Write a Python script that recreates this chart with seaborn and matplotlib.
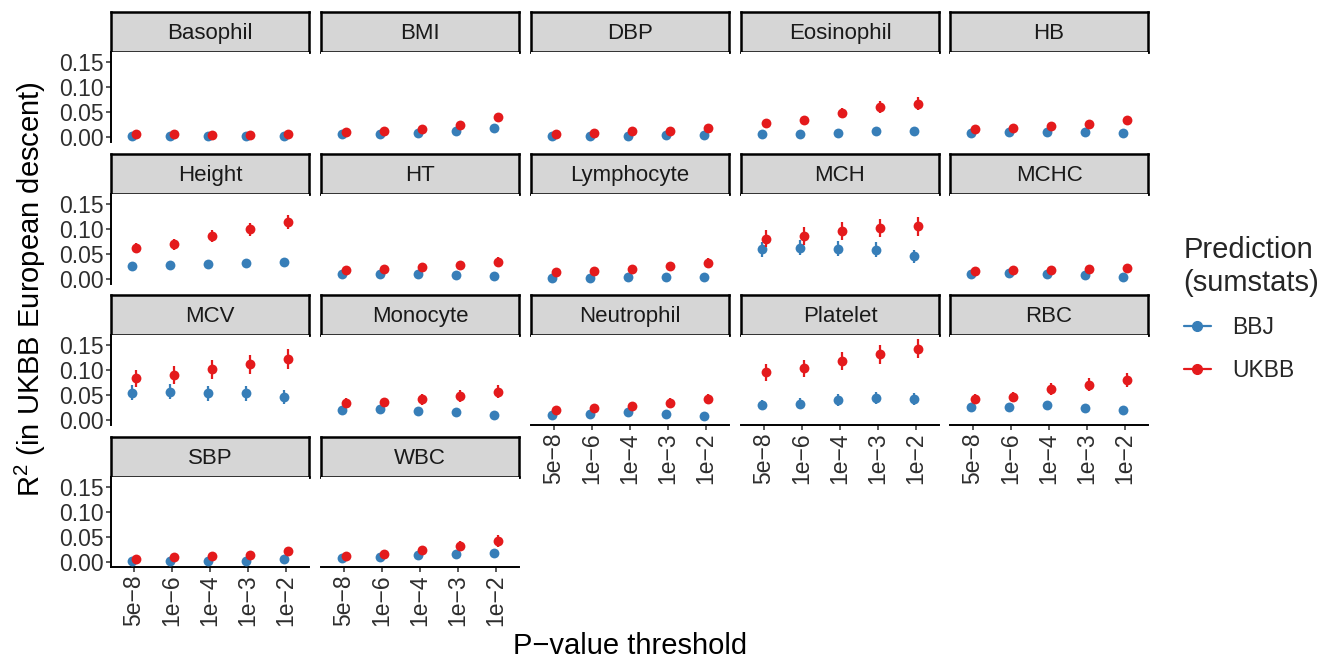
import numpy as np
import pandas as pd
import matplotlib
matplotlib.use("Agg")
import matplotlib.pyplot as plt
import seaborn as sns
from matplotlib.lines import Line2D

# ---------------- data ----------------
thresholds = ["5e\u22128", "1e\u22126", "1e\u22124", "1e\u22123", "1e\u22122"]
traits = ["Basophil", "BMI", "DBP", "Eosinophil", "HB",
          "Height", "HT", "Lymphocyte", "MCH", "MCHC",
          "MCV", "Monocyte", "Neutrophil", "Platelet", "RBC",
          "SBP", "WBC"]
sources = ["BBJ", "UKBB"]

bbj_r2 = {
    "Basophil":   [0.001, 0.001, 0.001, 0.001, 0.001],
    "BMI":        [0.005, 0.005, 0.008, 0.012, 0.017],
    "DBP":        [0.002, 0.002, 0.002, 0.003, 0.004],
    "Eosinophil": [0.0066, 0.0066, 0.008, 0.011, 0.0125],
    "HB":         [0.0085, 0.009, 0.010, 0.009, 0.008],
    "Height":     [0.025, 0.027, 0.030, 0.032, 0.034],
    "HT":         [0.0105, 0.0105, 0.0105, 0.008, 0.0066],
    "Lymphocyte": [0.002, 0.002, 0.003, 0.004, 0.0046],
    "MCH":        [0.059, 0.0625, 0.060, 0.058, 0.045],
    "MCHC":       [0.0099, 0.011, 0.0099, 0.007, 0.004],
    "MCV":        [0.0545, 0.0565, 0.053, 0.053, 0.045],
    "Monocyte":   [0.019, 0.0215, 0.0175, 0.015, 0.009],
    "Neutrophil": [0.009, 0.012, 0.016, 0.012, 0.0085],
    "Platelet":   [0.0305, 0.0325, 0.039, 0.0435, 0.042],
    "RBC":        [0.0266, 0.0266, 0.030, 0.024, 0.019],
    "SBP":        [0.001, 0.001, 0.0025, 0.0025, 0.005],
    "WBC":        [0.0085, 0.0105, 0.0145, 0.016, 0.017],
}
bbj_err = {
    "Basophil":   [0.003, 0.003, 0.003, 0.003, 0.003],
    "BMI":        [0.003, 0.003, 0.003, 0.004, 0.004],
    "DBP":        [0.003, 0.003, 0.003, 0.003, 0.003],
    "Eosinophil": [0.004, 0.004, 0.004, 0.004, 0.004],
    "HB":         [0.004, 0.004, 0.004, 0.004, 0.004],
    "Height":     [0.005, 0.005, 0.005, 0.005, 0.005],
    "HT":         [0.004, 0.004, 0.004, 0.004, 0.004],
    "Lymphocyte": [0.003, 0.003, 0.003, 0.003, 0.003],
    "MCH":        [0.015, 0.015, 0.015, 0.015, 0.013],
    "MCHC":       [0.004, 0.004, 0.004, 0.004, 0.004],
    "MCV":        [0.015, 0.015, 0.015, 0.015, 0.014],
    "Monocyte":   [0.006, 0.006, 0.006, 0.006, 0.005],
    "Neutrophil": [0.004, 0.004, 0.005, 0.004, 0.004],
    "Platelet":   [0.010, 0.011, 0.012, 0.012, 0.012],
    "RBC":        [0.006, 0.006, 0.006, 0.006, 0.005],
    "SBP":        [0.003, 0.003, 0.003, 0.003, 0.003],
    "WBC":        [0.005, 0.005, 0.005, 0.005, 0.005],
}
ukbb_r2 = {
    "Basophil":   [0.005, 0.005, 0.004, 0.004, 0.005],
    "BMI":        [0.010, 0.012, 0.016, 0.024, 0.039],
    "DBP":        [0.006, 0.007, 0.011, 0.011, 0.018],
    "Eosinophil": [0.028, 0.034, 0.048, 0.060, 0.066],
    "HB":         [0.015, 0.017, 0.022, 0.026, 0.033],
    "Height":     [0.0625, 0.069, 0.086, 0.099, 0.114],
    "HT":         [0.018, 0.020, 0.024, 0.027, 0.034],
    "Lymphocyte": [0.014, 0.015, 0.020, 0.026, 0.032],
    "MCH":        [0.080, 0.0855, 0.095, 0.1007, 0.1046],
    "MCHC":       [0.016, 0.017, 0.018, 0.019, 0.021],
    "MCV":        [0.083, 0.090, 0.101, 0.111, 0.121],
    "Monocyte":   [0.034, 0.035, 0.041, 0.048, 0.0565],
    "Neutrophil": [0.0195, 0.023, 0.027, 0.034, 0.041],
    "Platelet":   [0.095, 0.1026, 0.118, 0.1305, 0.142],
    "RBC":        [0.042, 0.046, 0.061, 0.070, 0.080],
    "SBP":        [0.006, 0.009, 0.012, 0.014, 0.022],
    "WBC":        [0.0125, 0.015, 0.023, 0.032, 0.0415],
}
ukbb_err = {
    "Basophil":   [0.003, 0.003, 0.003, 0.003, 0.003],
    "BMI":        [0.004, 0.004, 0.005, 0.006, 0.009],
    "DBP":        [0.004, 0.004, 0.004, 0.004, 0.005],
    "Eosinophil": [0.007, 0.008, 0.010, 0.012, 0.013],
    "HB":         [0.005, 0.005, 0.006, 0.007, 0.008],
    "Height":     [0.010, 0.011, 0.012, 0.013, 0.014],
    "HT":         [0.006, 0.006, 0.007, 0.008, 0.009],
    "Lymphocyte": [0.006, 0.006, 0.007, 0.008, 0.009],
    "MCH":        [0.017, 0.017, 0.018, 0.018, 0.019],
    "MCHC":       [0.005, 0.005, 0.005, 0.005, 0.005],
    "MCV":        [0.017, 0.018, 0.019, 0.019, 0.020],
    "Monocyte":   [0.009, 0.009, 0.011, 0.012, 0.013],
    "Neutrophil": [0.006, 0.007, 0.008, 0.009, 0.010],
    "Platelet":   [0.017, 0.017, 0.018, 0.019, 0.019],
    "RBC":        [0.009, 0.010, 0.012, 0.013, 0.014],
    "SBP":        [0.004, 0.005, 0.005, 0.006, 0.007],
    "WBC":        [0.005, 0.006, 0.008, 0.010, 0.012],
}
palette = {"BBJ": "#377EB8", "UKBB": "#E41A1C"}

# ---------------- long table ----------------
rows = []
for t in traits:
    for src, vals, errs in (("BBJ", bbj_r2, bbj_err), ("UKBB", ukbb_r2, ukbb_err)):
        for i, th in enumerate(thresholds):
            rows.append(dict(trait=t, source=src, threshold=th, idx=i,
                             r2=vals[t][i], lo=vals[t][i] - errs[t][i],
                             hi=vals[t][i] + errs[t][i]))
df = pd.DataFrame(rows)
dodge = {"BBJ": -0.06, "UKBB": 0.06}
df["xpos"] = df["idx"] + df["source"].map(dodge)

ymin_d, ymax_d = df["lo"].min(), df["hi"].max()
pad = 0.05 * (ymax_d - ymin_d)
ylim = (ymin_d - pad, ymax_d + pad)

# ---------------- style ----------------
sns.set_theme(style="white")
plt.rcParams["font.family"] = ["Liberation Sans", "DejaVu Sans"]
plt.rcParams["mathtext.fontset"] = "custom"
plt.rcParams["mathtext.rm"] = "Liberation Sans"

W, H = 1328, 658
fig = plt.figure(figsize=(W / 100, H / 100), dpi=100)

col_x = [111, 321, 531, 741, 950]
pw = 198
row_strip_top = [12, 154, 295, 437]
strip_h = 40
panel_h = 90
txt_col = "#2E2E2E"
tick_fs = 16.5
strip_fs = 16
title_fs = 21

def fr(x0, y0, w, h):
    return [x0 / W, 1 - (y0 + h) / H, w / W, h / H]

n = len(traits)
ncol = 5
for k, t in enumerate(traits):
    r, c = divmod(k, ncol)
    x0 = col_x[c]
    st = row_strip_top[r]
    # strip
    sax = fig.add_axes(fr(x0, st, pw, strip_h))
    sax.set_facecolor("#D6D6D6")
    sax.set_xticks([]); sax.set_yticks([])
    for sp in sax.spines.values():
        sp.set_linewidth(1.8); sp.set_color("black"); sp.set_visible(True)
    sax.text(0.5, 0.47, t, ha="center", va="center", fontsize=strip_fs,
             color="#1A1A1A", transform=sax.transAxes)
    # panel
    ax = fig.add_axes(fr(x0, st + strip_h, pw, panel_h))
    sub = df[df["trait"] == t]
    z = 2
    for src in sources:
        s = sub[sub["source"] == src]
        ax.vlines(s["xpos"], s["lo"], s["hi"], colors=palette[src],
                  linewidth=1.6, zorder=z)
        sns.scatterplot(data=s, x="xpos", y="r2", color=palette[src], s=50,
                        linewidth=0, legend=False, ax=ax, zorder=z + 1)
        z += 2
    ax.set_xlim(-0.6, len(thresholds) - 0.4)
    ax.set_ylim(*ylim)
    ax.set_xlabel(""); ax.set_ylabel("")
    ax.set_facecolor("white")
    for sp in ax.spines.values():
        sp.set_visible(False)
    bottom = (k + ncol >= n)
    if c == 0:
        ax.spines["left"].set_visible(True)
        ax.spines["left"].set_linewidth(1.4)
        ax.spines["left"].set_color("black")
        ax.set_yticks([0, 0.05, 0.10, 0.15])
        ax.set_yticklabels(["0.00", "0.05", "0.10", "0.15"])
        ax.tick_params(axis="y", left=True, length=3.5, width=1.1,
                       color=txt_col, labelsize=tick_fs, labelcolor=txt_col, pad=2)
    else:
        ax.set_yticks([])
    if bottom:
        ax.spines["bottom"].set_visible(True)
        ax.spines["bottom"].set_linewidth(1.4)
        ax.spines["bottom"].set_color("black")
        ax.set_xticks(range(len(thresholds)))
        ax.set_xticklabels(thresholds, rotation=90)
        ax.tick_params(axis="x", bottom=True, length=3.5, width=1.1,
                       color=txt_col, labelsize=tick_fs, labelcolor=txt_col, pad=2)
    else:
        ax.set_xticks([])

fig.text(30 / W, 1 - 289 / H, "R$^{2}$ (in UKBB European descent)", rotation=90,
         ha="center", va="center", fontsize=title_fs, color="black")
fig.text(630 / W, 1 - 646 / H, "P\u2212value threshold", ha="center", va="center",
         fontsize=title_fs, color="black")

handles = [Line2D([0], [0], color=palette[s], marker="o", markersize=7, lw=1.6)
           for s in sources]
leg = fig.legend(handles, sources, title="Prediction\n(sumstats)",
                 loc="center left", bbox_to_anchor=(1163 / W, 1 - 309 / H),
                 frameon=False, fontsize=tick_fs, title_fontsize=title_fs,
                 handlelength=1.2, labelspacing=0.85, handletextpad=0.9)
leg._legend_box.align = "left"

fig.savefig("out.png", dpi=100)
